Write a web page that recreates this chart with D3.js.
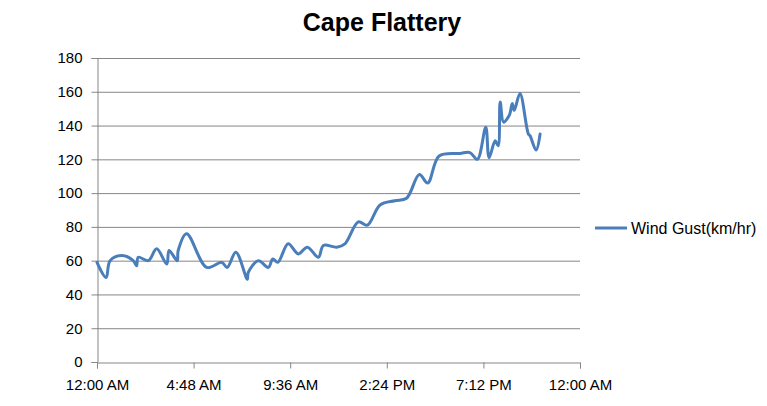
<!DOCTYPE html>
<html>
<head>
<meta charset="utf-8">
<script src="https://cdn.jsdelivr.net/npm/d3@7"></script>
<style>
  html, body { margin: 0; padding: 0; background: #fff; }
  svg { display: block; font-family: "Liberation Sans", Arial, sans-serif; }
</style>
</head>
<body>
<svg id="chart" width="767" height="406"></svg>
<script>
const title = "Cape Flattery";
const seriesName = "Wind Gust(km/hr)";
const times = ["0:00","0:27","0:39","1:14","1:48","1:58","2:03","2:33","2:58","3:28","3:35","3:59","4:02","4:27","5:27","6:12","6:28","6:54","7:28","7:31","8:01","8:31","8:44","8:59","9:30","10:00","10:27","11:00","11:15","11:55","12:19","12:59","13:26","14:04","14:48","15:23","16:01","16:26","17:00","18:02","18:32","18:54","19:19","19:29","19:47","19:56","20:02","20:12","20:26","20:31","20:38","20:44","21:01","21:26","21:31","21:49","22:01"];
const gusts = [59,50,60,63,60,57,62,60,67,58,66,60,66,76,56,59,56,65,49,53,60,56,61,59,70,64,68,62,69,68,70,83,81,93,95.5,97,111,106,122,123.5,124,120,139,121,131,128,154,142,145,147,153,149,159,135,134,125.5,135];
const yTicks = [0,20,40,60,80,100,120,140,160,180];
const xTickMinutes = [0,288,576,864,1152,1440];
const xTickLabels = ["12:00 AM","4:48 AM","9:36 AM","2:24 PM","7:12 PM","12:00 AM"];

const toMin = s => { const [h,m] = s.split(":").map(Number); return h*60+m; };
const data = times.map((t,i) => ({x: toMin(t), y: gusts[i]}));

const svg = d3.select("#chart");
const plotL = 97, plotR = 580, plotT = 58, plotB = 362;
const x = d3.scaleLinear().domain([0,1440]).range([plotL,plotR]);
const y = d3.scaleLinear().domain([0,180]).range([plotB,plotT]);
const gridColor = "#868686";

// gridlines
svg.append("g").selectAll("line").data(yTicks.filter(d => d>0)).join("line")
  .attr("x1", plotL).attr("x2", plotR)
  .attr("y1", d => y(d)+0.5).attr("y2", d => y(d)+0.5)
  .attr("stroke", gridColor).attr("stroke-width", 1);

// y axis
const yAxis = svg.append("g").attr("transform", `translate(${plotL+0.5},0)`)
  .call(d3.axisLeft(y).tickValues(yTicks).tickSize(6).tickPadding(9).tickFormat(d3.format("d")));
yAxis.select(".domain").attr("stroke", gridColor);
yAxis.selectAll(".tick line").attr("stroke", gridColor);
yAxis.selectAll("text").attr("font-size", 15).attr("fill", "#000");

// x axis
const xAxis = svg.append("g").attr("transform", `translate(0,${plotB+0.5})`)
  .call(d3.axisBottom(x).tickValues(xTickMinutes).tickSize(6).tickPadding(11)
    .tickFormat((d,i) => xTickLabels[i]));
xAxis.select(".domain").attr("stroke", gridColor);
xAxis.selectAll(".tick line").attr("stroke", gridColor);
xAxis.selectAll("text").attr("font-size", 15).attr("fill", "#000");

// line
const line = d3.line().x(d => x(d.x)).y(d => y(d.y)).curve(d3.curveCatmullRom.alpha(0.5));
svg.append("path").datum(data)
  .attr("d", line)
  .attr("fill", "none")
  .attr("stroke", "#4a7ebb")
  .attr("stroke-width", 3)
  .attr("stroke-linejoin", "round")
  .attr("stroke-linecap", "round");

// title
svg.append("text").attr("x", 382).attr("y", 31)
  .attr("text-anchor", "middle").attr("font-size", 25).attr("font-weight", "bold")
  .attr("fill", "#000").text(title);

// legend
svg.append("line").attr("x1", 595).attr("x2", 627).attr("y1", 228).attr("y2", 228)
  .attr("stroke", "#4a7ebb").attr("stroke-width", 3);
svg.append("text").attr("x", 631).attr("y", 234)
  .attr("font-size", 16).attr("fill", "#000").text(seriesName);
</script>
</body>
</html>
